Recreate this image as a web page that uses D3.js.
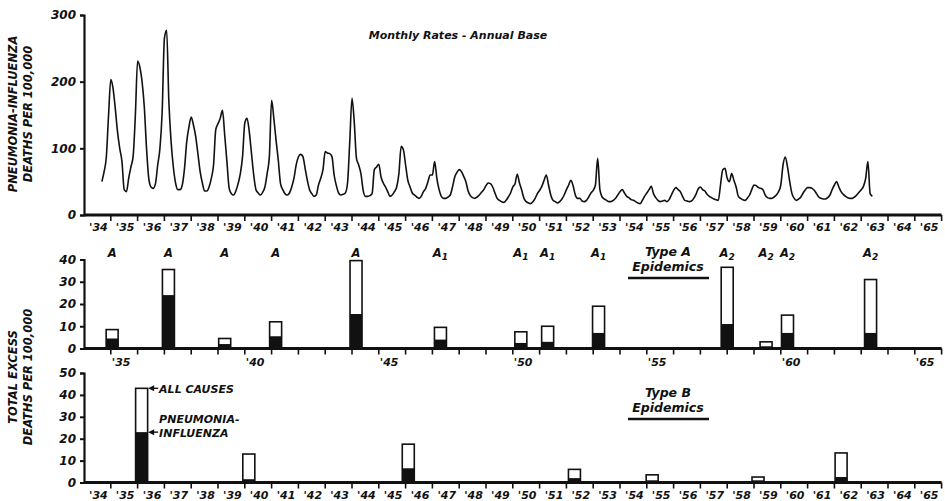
<!DOCTYPE html>
<html><head><meta charset="utf-8">
<script src="https://cdn.jsdelivr.net/npm/d3@7"></script>
<style>
html,body{margin:0;padding:0;background:#fff;}
svg text{font-family:'DejaVu Sans',sans-serif;font-weight:bold;font-style:oblique;fill:#111;}
</style></head><body>
<svg id="chart" width="945" height="501"></svg>
<script>
// ---------- DATA ----------
// Monthly pneumonia-influenza death rates (annual base), starting September 1934
const lineStartYear = 1934, lineStartMonth = 8;
const monthlyRate = [
  50, 65, 87, 150,                                   // 1934 Sep-Dec
  203, 190, 160, 125, 100, 80, 38, 35, 55, 72, 88, 150, // 1935
  231, 222, 200, 162, 100, 55, 42, 40, 47, 75, 100, 155, // 1936
  265, 277, 170, 110, 72, 48, 38, 38, 45, 70, 110, 132,  // 1937
  147, 135, 118, 92, 65, 48, 36, 36, 42, 55, 75, 128,    // 1938
  137, 145, 157, 120, 80, 40, 32, 30, 36, 47, 62, 88,    // 1939
  138, 145, 125, 92, 60, 38, 33, 30, 34, 42, 62, 88,     // 1940
  172, 145, 112, 82, 47, 38, 32, 30, 33, 42, 55, 75,     // 1941
  87, 91, 88, 70, 52, 38, 32, 28, 30, 45, 55, 68,        // 1942
  95, 93, 92, 88, 60, 44, 33, 30, 31, 33, 48, 110,       // 1943
  175, 140, 85, 75, 62, 37, 28, 28, 29, 32, 68, 72,      // 1944
  76, 57, 48, 42, 35, 28, 30, 35, 42, 62, 103, 98,       // 1945
  75, 52, 42, 33, 30, 27, 25, 28, 35, 40, 50, 60,        // 1946
  60, 80, 55, 38, 28, 25, 25, 27, 30, 42, 57, 64,        // 1947
  68, 65, 58, 50, 36, 29, 26, 25, 27, 30, 34, 38,        // 1948
  44, 48, 47, 42, 33, 25, 22, 20, 19, 22, 27, 33,        // 1949
  42, 47, 61, 48, 37, 25, 20, 18, 17, 20, 25, 32,        // 1950
  37, 43, 52, 60, 45, 30, 22, 20, 18, 20, 24, 30,        // 1951
  38, 45, 52, 44, 30, 25, 25, 21, 20, 22, 27, 33,        // 1952
  37, 45, 85, 38, 27, 24, 22, 20, 20, 22, 25, 30,        // 1953
  35, 38, 33, 28, 26, 23, 22, 20, 18, 17, 22, 28,        // 1954
  33, 38, 43, 32, 26, 22, 20, 21, 22, 20, 23, 30,        // 1955
  37, 41, 38, 35, 28, 22, 21, 20, 21, 25, 31, 39,        // 1956
  42, 38, 36, 31, 28, 26, 24, 23, 22, 45, 68, 70,        // 1957
  55, 50, 62, 52, 42, 28, 25, 23, 22, 25, 30, 38,        // 1958
  45, 44, 41, 40, 38, 30, 26, 25, 25, 27, 30, 35,        // 1959
  45, 75, 87, 72, 50, 32, 25, 22, 24, 27, 33, 38,        // 1960
  41, 41, 40, 37, 32, 27, 25, 24, 24, 26, 30, 38,        // 1961
  45, 50, 42, 35, 31, 28, 26, 25, 25, 27, 30, 34,        // 1962
  38, 43, 55, 80, 32, 28                                 // 1963 Jan-Jun
];
const topYTicks = [0, 100, 200, 300];
const yearTickLabels = ["'34","'35","'36","'37","'38","'39","'40","'41","'42","'43","'44","'45","'46","'47","'48","'49","'50","'51","'52","'53","'54","'55","'56","'57","'58","'59","'60","'61","'62","'63","'64","'65"];
const midTickLabels = ["'35","'40","'45","'50","'55","'60","'65"];
const midTickYears = [1935,1940,1945,1950,1955,1960,1965];
const midYTicks = [0,10,20,30,40];
const botYTicks = [0,10,20,30,40,50];

// Type A epidemics
const aDates  = [1935.05,1937.15,1939.25,1941.15,1944.15,1947.3,1950.3,1951.3,1953.2,1958.0,1959.45,1960.25,1963.35];
const aAll    = [8.5,35.5,4.5,12,39.5,9.5,7.5,10,19,36.5,3,15,31];
const aPI     = [4.5,24,2,5.5,15.5,4,2.5,3,7,11,1,7,7];
const aType   = ["A","A","A","A","A","A1","A1","A1","A1","A2","A2","A2","A2"];
// Type B epidemics
const bDates  = [1936.15,1940.15,1946.1,1952.3,1955.2,1959.15,1962.25];
const bAll    = [43,13,17.5,6,3.5,2.5,13.5];
const bPI     = [23,1.5,6.5,2,1,1,2.5];

// ---------- DRAW ----------
const svg = d3.select("#chart");
const x = d3.scaleLinear().domain([1934,1966]).range([84,941.6]);
const yTop = d3.scaleLinear().domain([0,300]).range([215,15]);
const yMid = d3.scaleLinear().domain([0,40]).range([348.5,259.5]);
const yBot = d3.scaleLinear().domain([0,50]).range([482.5,373]);
const yearBounds = d3.range(1934,1967);
const barW = 12;

function yAxis(scale, ticks, sizeFont){
  const g = svg.append("g").attr("transform","translate(84,0)")
    .call(d3.axisLeft(scale).tickValues(ticks).tickSize(4).tickPadding(4).tickFormat(d3.format("d")));
  g.select(".domain").attr("stroke","#111").attr("stroke-width",2.2);
  g.selectAll(".tick line").attr("stroke","#111").attr("stroke-width",2);
  g.selectAll("text").attr("font-size",sizeFont).attr("fill","#111")
    .style("font-family","'DejaVu Sans',sans-serif").style("font-weight","bold").style("font-style","oblique");
  return g;
}
function xBaseline(yPos){
  svg.append("line").attr("x1",x(1934)).attr("x2",x(1966)).attr("y1",yPos).attr("y2",yPos)
    .attr("stroke","#111").attr("stroke-width",3);
  svg.append("g").selectAll("line").data(yearBounds.slice(1)).join("line")
    .attr("x1",d=>x(d)).attr("x2",d=>x(d)).attr("y1",yPos).attr("y2",yPos+6)
    .attr("stroke","#111").attr("stroke-width",1.6);
}

// ---- Top panel ----
yAxis(yTop, topYTicks, 12);
xBaseline(215);
svg.append("g").selectAll("text").data(yearTickLabels).join("text")
  .attr("x",(d,i)=>x(1934+i+0.5)+1).attr("y",231).attr("text-anchor","middle")
  .attr("font-size",11).text(d=>d);

const linePts = monthlyRate.map((v,i)=>{
  const m = lineStartMonth + i;
  return [lineStartYear + m/12, v];
});
svg.append("path").datum(linePts)
  .attr("fill","none").attr("stroke","#111").attr("stroke-width",1.6).attr("stroke-linejoin","round")
  .attr("d", d3.line().x(d=>x(d[0])).y(d=>yTop(d[1])).curve(d3.curveMonotoneX));

svg.append("text").attr("x",458).attr("y",39).attr("text-anchor","middle")
  .attr("font-size",11).style("font-weight","bold").text("Monthly Rates - Annual Base");

svg.append("g").attr("transform","translate(21,114) rotate(-90)")
  .call(g=>{
    g.append("text").attr("y",-4).attr("text-anchor","middle").attr("font-size",11.5).text("PNEUMONIA-INFLUENZA");
    g.append("text").attr("y",11).attr("text-anchor","middle").attr("font-size",11.5).text("DEATHS PER 100,000");
  });

// ---- Middle panel (Type A) ----
function bars(dates, all, pi, yS){
  const g = svg.append("g");
  g.selectAll("rect.all").data(dates).join("rect").attr("class","all")
    .attr("x",d=>x(d)-barW/2).attr("width",barW)
    .attr("y",(d,i)=>yS(all[i])).attr("height",(d,i)=>yS(0)-yS(all[i]))
    .attr("fill","#fff").attr("stroke","#111").attr("stroke-width",1.6);
  g.selectAll("rect.pi").data(dates).join("rect").attr("class","pi")
    .attr("x",d=>x(d)-barW/2).attr("width",barW)
    .attr("y",(d,i)=>yS(pi[i])).attr("height",(d,i)=>yS(0)-yS(pi[i]))
    .attr("fill","#111");
}
bars(aDates, aAll, aPI, yMid);
yAxis(yMid, midYTicks, 12);
xBaseline(348.5);
svg.append("g").selectAll("text").data(midTickLabels).join("text")
  .attr("x",(d,i)=>x(midTickYears[i])+1).attr("y",366).attr("text-anchor","start")
  .attr("font-size",11).text(d=>d);

const aLab = svg.append("g").selectAll("text").data(aType).join("text")
  .attr("x",(d,i)=>x(aDates[i])).attr("y",257).attr("text-anchor","middle").attr("font-size",11.5);
aLab.append("tspan").text(d=>d[0]);
aLab.filter(d=>d.length>1).append("tspan").attr("dy",3).attr("font-size",9).text(d=>d.slice(1));

function typeTitle(letterLine, y1){
  svg.append("text").attr("x",668).attr("y",y1).attr("text-anchor","middle").attr("font-size",12.5).text(letterLine);
  svg.append("text").attr("x",668).attr("y",y1+15).attr("text-anchor","middle").attr("font-size",12.5).text("Epidemics");
  svg.append("line").attr("x1",628).attr("x2",709).attr("y1",y1+22).attr("y2",y1+22)
    .attr("stroke","#111").attr("stroke-width",2.5);
}
typeTitle("Type A", 256);

// ---- Bottom panel (Type B) ----
bars(bDates, bAll, bPI, yBot);
yAxis(yBot, botYTicks, 12);
xBaseline(482.5);
svg.append("g").selectAll("text").data(yearTickLabels).join("text")
  .attr("x",(d,i)=>x(1934+i+0.5)+1).attr("y",499).attr("text-anchor","middle")
  .attr("font-size",11).text(d=>d);
typeTitle("Type B", 397);

svg.append("g").attr("transform","translate(21,377) rotate(-90)")
  .call(g=>{
    g.append("text").attr("y",-4).attr("text-anchor","middle").attr("font-size",11.5).text("TOTAL EXCESS");
    g.append("text").attr("y",11).attr("text-anchor","middle").attr("font-size",11.5).text("DEATHS PER 100,000");
  });

// annotations with arrows
function arrow(xTip, yTip){
  svg.append("path").attr("d",`M${xTip},${yTip} l6,-3 l0,6 z`).attr("fill","#111");
  svg.append("line").attr("x1",xTip+5).attr("x2",xTip+10).attr("y1",yTip).attr("y2",yTip)
    .attr("stroke","#111").attr("stroke-width",1.4);
}
const bx = x(bDates[0]) + barW/2 + 0.5;
arrow(bx, yBot(bAll[0]));
svg.append("text").attr("x",bx+11).attr("y",yBot(bAll[0])+4.5).attr("font-size",11).text("ALL CAUSES");
arrow(bx, yBot(bPI[0]));
svg.append("text").attr("x",bx+11).attr("y",yBot(bPI[0])-9.5).attr("font-size",11).text("PNEUMONIA-");
svg.append("text").attr("x",bx+11).attr("y",yBot(bPI[0])+4.5).attr("font-size",11).text("INFLUENZA");
</script></body></html>
